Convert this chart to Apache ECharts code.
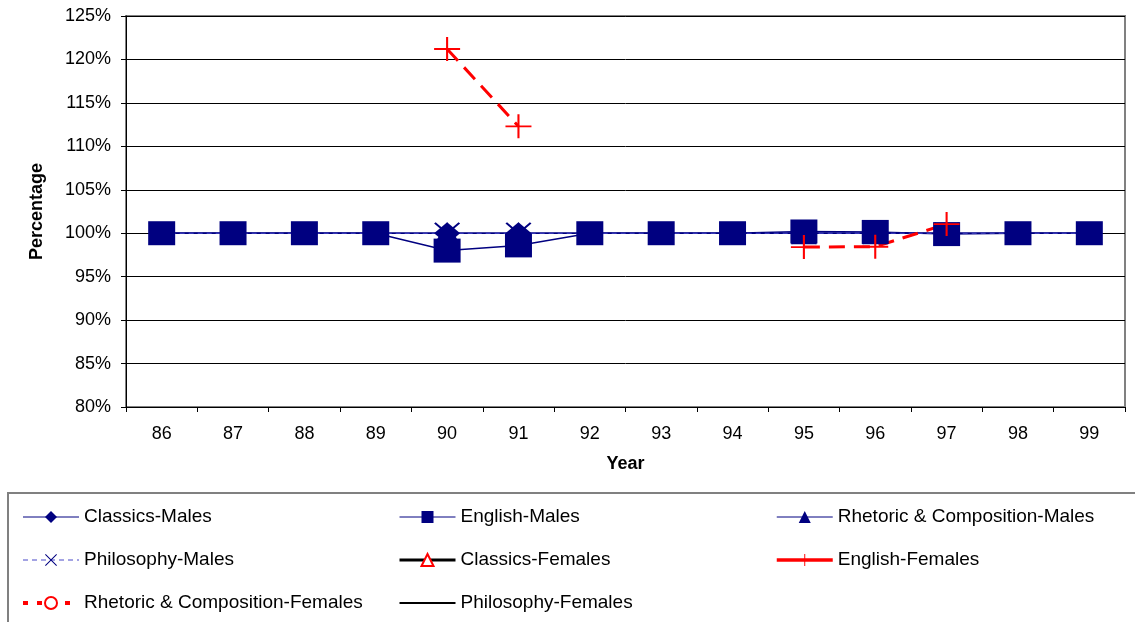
<!DOCTYPE html>
<html>
<head>
<meta charset="utf-8">
<script src="https://cdn.jsdelivr.net/npm/echarts@6/dist/echarts.min.js"></script>
<style>
html,body{margin:0;padding:0;background:#fff;}
#chart{width:1135px;height:622px;}
</style>
</head>
<body>
<div id="chart"></div>
<script>
const years = ['86','87','88','89','90','91','92','93','94','95','96','97','98','99'];
const classicsMales     = [100,100,100,100,100,100,100,100,100,100,100,100,100,100];
const englishMales      = [100,100,100,100,98.0,98.6,100,100,100,100.2,100.15,99.9,100,100];
const rhetoricMales     = [100,100,100,100,100,100,100,100,100,100,100,100,100,100];
const philosophyMales   = [100,100,100,100,100,100,100,100,100,100,100,100,100,100];
const classicsFemales   = [null,null,null,null,null,null,null,null,null,null,null,null,null,null];
const englishFemales    = [null,null,null,null,121.2,112.3,null,null,null,98.4,98.45,101.05,null,null];
const rhetoricFemales   = [null,null,null,null,null,null,null,null,null,null,null,null,null,null];
const philosophyFemales = [null,null,null,null,null,null,null,null,null,null,null,null,null,null];
const yMin = 80, yMax = 125, yStep = 5;

const FONT = '"Liberation Sans", Arial, sans-serif';
const NAVY = '#000080';
const RED = '#ff0000';
const X_PATH = 'path://M0,0.6 L0.6,0 L5,4.4 L9.4,0 L10,0.6 L5.6,5 L10,9.4 L9.4,10 L5,5.6 L0.6,10 L0,9.4 L4.4,5 Z';
const PLUS_PATH = 'path://M4.6,0 L5.4,0 L5.4,4.6 L10,4.6 L10,5.4 L5.4,5.4 L5.4,10 L4.6,10 L4.6,5.4 L0,5.4 L0,4.6 L4.6,4.6 Z';

const chart = echarts.init(document.getElementById('chart'), null, {renderer: 'canvas'});

function legendCol(left, items) {
  return {
    orient: 'vertical',
    left: left,
    top: 507,
    padding: 0,
    itemWidth: 56,
    itemHeight: 15,
    itemGap: 23,
    selectedMode: false,
    textStyle: {fontFamily: FONT, fontSize: 19, color: '#000', lineHeight: 20},
    data: items
  };
}

const option = {
  animation: false,
  backgroundColor: '#fff',
  textStyle: {fontFamily: FONT},
  graphic: [{
    type: 'rect',
    z: -10,
    shape: {x: 8, y: 493, width: 1140, height: 140},
    style: {fill: '#fff', stroke: '#808080', lineWidth: 2}
  }],
  grid: {
    left: 126, right: 10, top: 16, bottom: 215,
    show: true, backgroundColor: '#fff', borderColor: '#808080', borderWidth: 2
  },
  legend: [
    legendCol(21, [
      {name: 'Classics-Males', lineStyle: {color: NAVY, width: 1, type: 'solid'}},
      {name: 'Philosophy-Males', lineStyle: {color: '#4848c8', width: 1, type: [5, 4]}},
      {name: 'Rhetoric & Composition-Females', lineStyle: {color: RED, width: 4, type: [5, 9]}}
    ]),
    legendCol(398, [
      {name: 'English-Males', lineStyle: {color: NAVY, width: 1, type: 'solid'}},
      {name: 'Classics-Females', lineStyle: {color: '#000', width: 3, type: 'solid'}},
      {name: 'Philosophy-Females', itemStyle: {color: 'rgba(0,0,0,0)', borderWidth: 0}, lineStyle: {color: '#000', width: 2, type: 'solid'}}
    ]),
    legendCol(775, [
      {name: 'Rhetoric & Composition-Males', lineStyle: {color: NAVY, width: 1, type: 'solid'}},
      {name: 'English-Females', lineStyle: {color: RED, width: 3.5, type: 'solid'}}
    ])
  ],
  xAxis: {
    type: 'category',
    data: years,
    boundaryGap: true,
    name: 'Year',
    nameLocation: 'middle',
    nameGap: 48,
    nameTextStyle: {fontFamily: FONT, fontSize: 18, fontWeight: 'bold', color: '#000'},
    axisLine: {lineStyle: {color: '#000', width: 1}},
    axisTick: {show: true, length: 5, lineStyle: {color: '#000'}},
    axisLabel: {fontFamily: FONT, fontSize: 18, color: '#000', margin: 18},
    splitLine: {show: false}
  },
  yAxis: {
    type: 'value',
    min: yMin, max: yMax, interval: yStep,
    name: 'Percentage',
    nameLocation: 'middle',
    nameRotate: 90,
    nameGap: 80,
    nameTextStyle: {fontFamily: FONT, fontSize: 18, fontWeight: 'bold', color: '#000'},
    axisLine: {show: true, lineStyle: {color: '#000', width: 1}},
    axisTick: {show: true, length: 5, lineStyle: {color: '#000'}},
    axisLabel: {fontFamily: FONT, fontSize: 18, color: '#000', margin: 15, formatter: '{value}%'},
    splitLine: {show: true, lineStyle: {color: '#000', width: 1}}
  },
  series: [
    {name: 'Classics-Males', type: 'line', data: classicsMales,
     symbol: 'diamond', symbolSize: [26, 22],
     lineStyle: {color: NAVY, width: 1.5}, itemStyle: {color: NAVY}},
    {name: 'English-Males', type: 'line', data: englishMales,
     symbol: 'rect', symbolSize: [27, 24],
     lineStyle: {color: NAVY, width: 1.5}, itemStyle: {color: NAVY}},
    {name: 'Rhetoric & Composition-Males', type: 'line', data: rhetoricMales,
     symbol: 'triangle', symbolSize: [26, 22],
     lineStyle: {color: NAVY, width: 1.5}, itemStyle: {color: NAVY}},
    {name: 'Philosophy-Males', type: 'line', data: philosophyMales,
     symbol: X_PATH, symbolSize: [26, 22],
     lineStyle: {color: '#4848c8', width: 1, type: [5, 4]}, itemStyle: {color: NAVY}},
    {name: 'Classics-Females', type: 'line', data: classicsFemales,
     symbol: 'emptyTriangle', symbolSize: 12,
     lineStyle: {color: '#000', width: 3}, itemStyle: {color: RED}},
    {name: 'English-Females', type: 'line', data: englishFemales,
     symbol: PLUS_PATH, symbolSize: [26, 24],
     lineStyle: {color: RED, width: 3, type: [16, 9]}, itemStyle: {color: RED}},
    {name: 'Rhetoric & Composition-Females', type: 'line', data: rhetoricFemales,
     symbol: 'emptyCircle', symbolSize: 12,
     lineStyle: {color: RED, width: 4, type: [5, 9]}, itemStyle: {color: RED}},
    {name: 'Philosophy-Females', type: 'line', data: philosophyFemales,
     symbol: 'none',
     lineStyle: {color: '#000', width: 2}, itemStyle: {color: '#000'}}
  ]
};
chart.setOption(option);
</script>
</body>
</html>
